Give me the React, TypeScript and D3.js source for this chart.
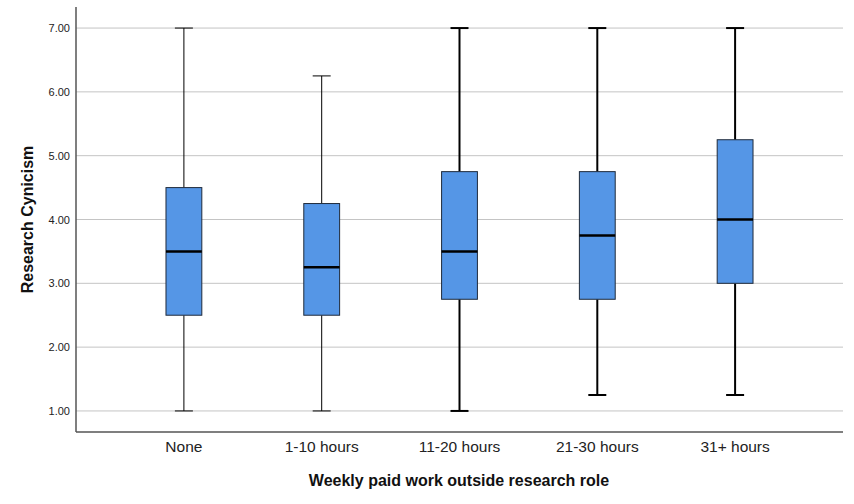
import { useEffect, useRef } from 'react';
import * as d3 from 'd3';

const categories = ['None', '1-10 hours', '11-20 hours', '21-30 hours', '31+ hours'];
const mins = [1.0, 1.0, 1.0, 1.25, 1.25];
const q1s = [2.5, 2.5, 2.75, 2.75, 3.0];
const medians = [3.5, 3.25, 3.5, 3.75, 4.0];
const q3s = [4.5, 4.25, 4.75, 4.75, 5.25];
const maxs = [7.0, 6.25, 7.0, 7.0, 7.0];
const whiskerWidths = [1, 1, 2, 2, 2];
const yTicks = [1, 2, 3, 4, 5, 6, 7];

const W = 854;
const H = 504;

export default function App() {
  const svgRef = useRef<SVGSVGElement>(null);

  useEffect(() => {
    if (!svgRef.current) return;
    const svg = d3.select(svgRef.current);
    svg.selectAll('*').remove();

    const left = 76, right = 843, top = 7, bottom = 432;
    const font = '"Liberation Sans", Arial, sans-serif';

    const y = d3.scaleLinear().domain([0.67, 7.33]).range([bottom, top]);
    const x = d3.scaleBand<string>()
      .domain(categories)
      .range([left + 39, right - 39])
      .paddingInner(0.74)
      .paddingOuter(0.37);

    // gridlines
    svg.append('g')
      .selectAll('line')
      .data(yTicks)
      .enter().append('line')
      .attr('x1', left)
      .attr('x2', right)
      .attr('y1', d => y(d))
      .attr('y2', d => y(d))
      .attr('stroke', '#c4c4c4')
      .attr('stroke-width', 1);

    // y axis
    const yAxis = svg.append('g')
      .attr('transform', `translate(${left},0)`)
      .call(d3.axisLeft(y).tickValues(yTicks).tickFormat(d3.format('.2f')).tickSize(0).tickPadding(6));
    yAxis.select('.domain').remove();
    yAxis.selectAll('text')
      .style('font-family', font)
      .style('font-size', '11px')
      .style('fill', '#222');

    // axis lines
    svg.append('line')
      .attr('x1', left).attr('x2', left)
      .attr('y1', top).attr('y2', bottom)
      .attr('stroke', '#555').attr('stroke-width', 1.5);
    svg.append('line')
      .attr('x1', left).attr('x2', right)
      .attr('y1', bottom).attr('y2', bottom)
      .attr('stroke', '#555').attr('stroke-width', 1.5);

    // x axis labels
    const xAxis = svg.append('g')
      .attr('transform', `translate(0,${bottom})`)
      .call(d3.axisBottom(x).tickSize(0).tickPadding(9));
    xAxis.select('.domain').remove();
    xAxis.selectAll('text')
      .style('font-family', font)
      .style('font-size', '15.5px')
      .style('fill', '#222');

    const boxes = svg.append('g')
      .selectAll('g')
      .data(categories.map((c, i) => ({ c, i })))
      .enter().append('g');

    const bw = x.bandwidth();
    const cx = (d: any) => (x(d.c) as number) + bw / 2;

    // whiskers
    boxes.append('line')
      .attr('x1', cx).attr('x2', cx)
      .attr('y1', d => y(maxs[d.i])).attr('y2', d => y(q3s[d.i]))
      .attr('stroke', '#000').attr('stroke-width', d => whiskerWidths[d.i]);
    boxes.append('line')
      .attr('x1', cx).attr('x2', cx)
      .attr('y1', d => y(q1s[d.i])).attr('y2', d => y(mins[d.i]))
      .attr('stroke', '#000').attr('stroke-width', d => whiskerWidths[d.i]);
    // caps
    boxes.selectAll('.cap')
      .data(d => [
        { cx: cx(d), v: maxs[d.i], w: whiskerWidths[d.i] },
        { cx: cx(d), v: mins[d.i], w: whiskerWidths[d.i] }
      ])
      .enter().append('line')
      .attr('class', 'cap')
      .attr('x1', d => d.cx - 9).attr('x2', d => d.cx + 9)
      .attr('y1', d => y(d.v)).attr('y2', d => y(d.v))
      .attr('stroke', '#000').attr('stroke-width', d => d.w);

    // boxes
    boxes.append('rect')
      .attr('x', d => x(d.c) as number)
      .attr('width', bw)
      .attr('y', d => y(q3s[d.i]))
      .attr('height', d => y(q1s[d.i]) - y(q3s[d.i]))
      .attr('fill', '#5596e6')
      .attr('stroke', '#1f2a3a')
      .attr('stroke-width', 1);

    // medians
    boxes.append('line')
      .attr('x1', d => x(d.c) as number)
      .attr('x2', d => (x(d.c) as number) + bw)
      .attr('y1', d => y(medians[d.i])).attr('y2', d => y(medians[d.i]))
      .attr('stroke', '#000').attr('stroke-width', 2.5);

    // titles
    svg.append('text')
      .attr('x', 459)
      .attr('y', 486)
      .attr('text-anchor', 'middle')
      .style('font-family', font)
      .style('font-size', '16px')
      .style('font-weight', 'bold')
      .style('fill', '#111')
      .text('Weekly paid work outside research role');

    svg.append('text')
      .attr('transform', `translate(33,${(top + bottom) / 2}) rotate(-90)`)
      .attr('text-anchor', 'middle')
      .style('font-family', font)
      .style('font-size', '16px')
      .style('font-weight', 'bold')
      .style('fill', '#111')
      .text('Research Cynicism');
  }, []);

  return (
    <svg
      ref={svgRef}
      width={W}
      height={H}
      style={{ position: 'absolute', left: 0, top: 0, background: '#fff' }}
    />
  );
}
